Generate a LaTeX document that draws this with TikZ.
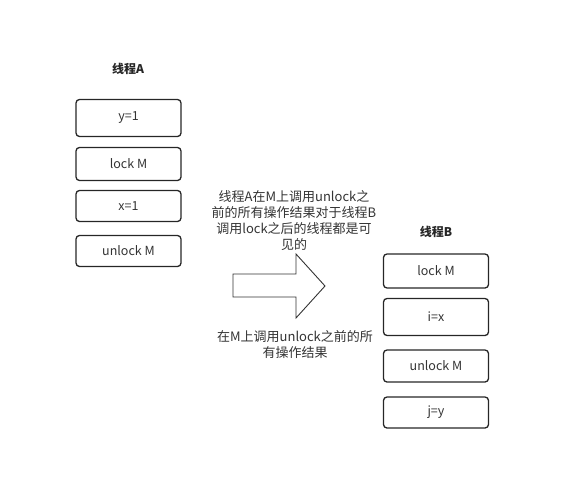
\documentclass[tikz,border=0pt]{standalone}
\usepackage{fontspec}
\setmainfont{Noto Sans CJK SC}
\begin{document}
\begin{tikzpicture}[x=1pt,y=-1pt,
  opbox/.style={draw=black!85, line width=1.3pt, rounded corners=3.5pt, minimum width=105pt, inner sep=0pt, font=\fontsize{12.5}{14}\selectfont, text=black!80},
  ttl/.style={font=\fontsize{12}{14}\selectfont\bfseries, text=black!85},
  note/.style={font=\fontsize{13}{16}\selectfont, text=black!80, align=center, text width=190pt, inner sep=0pt}]
\useasboundingbox (0,0) rectangle (578,490);
\node[ttl] (ta) at (128,69) {线程A};
\node[opbox, minimum height=37pt] (a1) at (128.5,118) {y=1};
\node[opbox, minimum height=33pt] (a2) at (128.5,164) {lock M};
\node[opbox, minimum height=31pt] (a3) at (128.5,206) {x=1};
\node[opbox, minimum height=31pt] (a4) at (128.5,251) {unlock M};
\node[ttl] (tb) at (436,232) {线程B};
\node[opbox, minimum height=34pt] (b1) at (436,271) {lock M};
\node[opbox, minimum height=37pt] (b2) at (436,317) {i=x};
\node[opbox, minimum height=32pt] (b3) at (436,366) {unlock M};
\node[opbox, minimum height=31pt] (b4) at (436,412.5) {j=y};
\draw[black!80, line width=0.9pt, line join=miter] (233,274) -- (296,274) -- (296,254) -- (325,286) -- (296,318) -- (296,297) -- (233,297) -- cycle;
\node[note] (n1) at (294,221) {线程A在M上调用unlock之\\前的所有操作结果对于线程B\\调用lock之后的线程都是可\\见的};
\node[note] (n2) at (295,345) {在M上调用unlock之前的所\\有操作结果};
\end{tikzpicture}
\end{document}
